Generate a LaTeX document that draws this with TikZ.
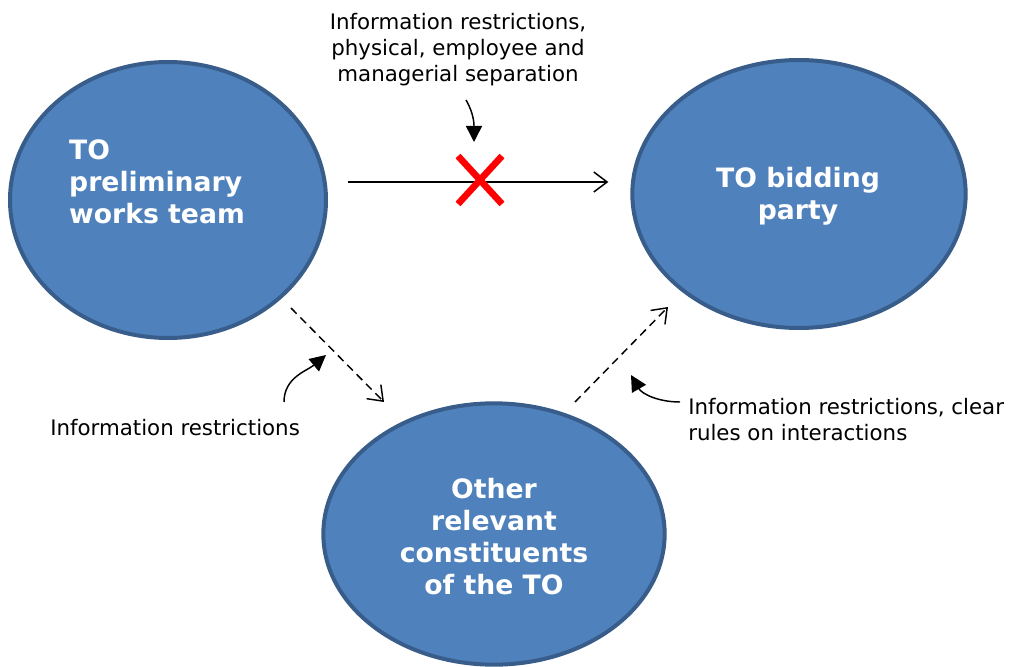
\documentclass[tikz,border=0pt]{standalone}
\usepackage{fontspec}
\setmainfont{DejaVu Sans}
\usetikzlibrary{shapes.geometric,arrows.meta}

\definecolor{partyfill}{HTML}{4F81BD}
\definecolor{partyline}{HTML}{385D8A}
\tikzset{
  party/.style={ellipse,draw=partyline,fill=partyfill,line width=3pt,inner sep=0pt},
  partytext/.style={text=white,font=\bfseries\fontsize{20}{24}\selectfont},
  note/.style={font=\fontsize{16}{19.5}\selectfont,inner sep=0pt},
  flow/.style={line width=1.1pt,-{Straight Barb[length=10pt,width=15pt]}},
  hint/.style={line width=1.1pt,-{Triangle[length=12pt,width=12pt]}}
}

\begin{document}
\begin{tikzpicture}[x=0.75pt,y=-0.75pt]
\useasboundingbox (0,0) rectangle (1011,667);

% the three parties
\node[party,minimum width=237pt,minimum height=207pt] (team) at (168,200) {};
\node[party,minimum width=250pt,minimum height=201pt] (bid) at (799,194) {};
\node[party,minimum width=256pt,minimum height=196pt] (other) at (494,534) {};

\node[partytext,align=left] at (157,182) {TO\\preliminary\\works team};
\node[partytext,align=center] at (798,196) {TO bidding\\party};
\node[partytext,align=center] at (494,537) {Other\\relevant\\constituents\\of the TO};

% notes
\node[note,align=center] (sep) at (458,50) {Information restrictions,\\physical, employee and\\managerial separation};
\node[note,anchor=west] (left) at (50,428) {Information restrictions};
\node[note,align=left,anchor=north west] (right) at (688,398) {Information restrictions, clear\\rules on interactions};

% blocked flow
\draw[flow] ([xshift=15pt,yshift=13.5pt]team.east) -- ([xshift=-16.5pt,yshift=9pt]bid.west);
\coordinate (cross) at (480,180);
\draw[red,line width=5pt] (cross) ++(-22,-24) -- ++(44,48);
\draw[red,line width=5pt] (cross) ++(22,-24) -- ++(-44,48);
\coordinate (sepend) at (474,142);
\draw[hint] ([xshift=6pt,yshift=-10pt]sep.south) to[out=-60,in=90] (sepend);

% dashed flows
\coordinate (a1) at (291,308);
\coordinate (a2) at (384,402);
\coordinate (b1) at (575,402);
\coordinate (b2) at (668,307);
\draw[flow,dashed,dash pattern=on 6pt off 4pt] (a1) -- (a2);
\draw[flow,dashed,dash pattern=on 6pt off 4pt] (b1) -- (b2);

\coordinate (lend) at (326,355);
\coordinate (rend) at (631,375);
\draw[hint] (284,402) to[out=90,in=-140] (lend);
\draw[hint] (680,402) to[out=180,in=-60] (rend);
\end{tikzpicture}
\end{document}
